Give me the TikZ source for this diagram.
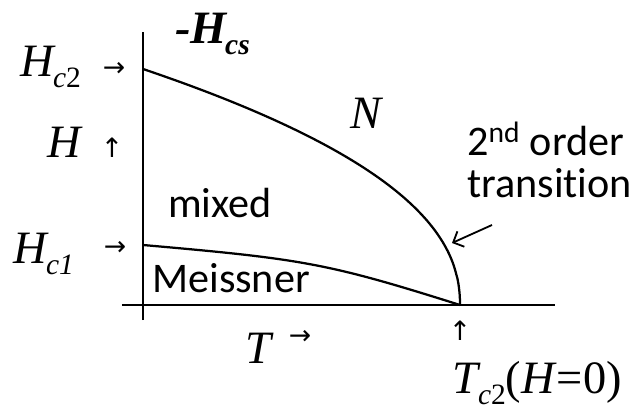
\documentclass[tikz,border=0pt]{standalone}
\usepackage{fontspec}
\setmainfont{Liberation Serif}
\newfontfamily\calfont[Ligatures=NoCommon]{Carlito}
\newfontfamily\arrfont{DejaVu Sans}
\usepackage{tikz}
\usetikzlibrary{arrows.meta}

\newcommand{\lowsub}[1]{\kern-0.06em\raisebox{-0.24em}{\fontsize{21}{21}\selectfont #1}}

\begin{document}
\begin{tikzpicture}[
  axis/.style={line width=2.1pt},
  boundary/.style={line width=1.6pt},
  pointer/.style={line width=1.3pt, -{Straight Barb[length=6pt,width=12pt]}},
  mathlbl/.style={inner sep=0pt, anchor=base west, font=\fontsize{33}{33}\selectfont},
  phaselbl/.style={inner sep=0pt, anchor=base west, font=\calfont\fontsize{30}{30}\selectfont},
  tick/.style={inner sep=0pt, font=\arrfont\fontsize{19}{19}\selectfont}]
\useasboundingbox (-3.575,-2.7) rectangle (12.5,7.625);
% axes
\draw[axis] (0,-0.375) -- (0,6.825);
\draw[axis] (-0.525,0) -- (10.3,0);
\coordinate (hctwopt) at (0,5.9);
\coordinate (hconept) at (0,1.5);
\coordinate (tctwopt) at (7.925,0);
% phase boundaries
\draw[boundary] (tctwopt) -- plot[domain=0.01:5.9, samples=80, smooth] ({7.925*(1-(\x/5.9)^2.2)}, \x);
\draw[boundary] (hconept) .. controls (4,1.15) and (4.6,1.05) .. (tctwopt);
% labels
\node[mathlbl] (hcs) at (0.8,6.55) {\textbf{\textit{-H}}\lowsub{\textbf{\textit{cs}}}};
\node[mathlbl] (hctwo) at (-3.075,5.725) {\textit{H}\lowsub{\textit{c}2}};
\node[tick] (hctwoarr) at (-0.725,5.9) {→};
\node[mathlbl] (hlbl) at (-2.4,3.7) {\textit{H}};
\node[tick] (harr) at (-0.775,3.925) {↑};
\node[mathlbl] (hcone) at (-3.25,1.05) {\textit{H}\lowsub{\textit{c1}}};
\node[tick] (hconearr) at (-0.7,1.425) {→};
\node[phaselbl] (mixed) at (0.625,2.2) {mixed};
\node[phaselbl] (meissner) at (0.225,0.325) {Meissner};
\node[mathlbl] (tlbl) at (2.55,-1.45) {\textit{T}};
\node[tick] (tarr) at (3.925,-0.8) {→};
\node[mathlbl] (nlbl) at (5.175,4.425) {\textit{N}};
\node[phaselbl] (order) at (8.1,3.75) {2\textsuperscript{nd} order};
\node[phaselbl] (trans) at (8.1,2.7) {transition};
\node[tick] (tctwoarr) at (7.925,-0.65) {↑};
\node[mathlbl] (tctwo) at (7.725,-2.2) {\textit{T}\lowsub{\textit{c}2}(\textit{H}=0)};
% pointer to the upper boundary
\coordinate (ptail) at (8.725,2.0);
\coordinate (phead) at (7.725,1.55);
\draw[pointer] (ptail) -- (phead);
\end{tikzpicture}
\end{document}
